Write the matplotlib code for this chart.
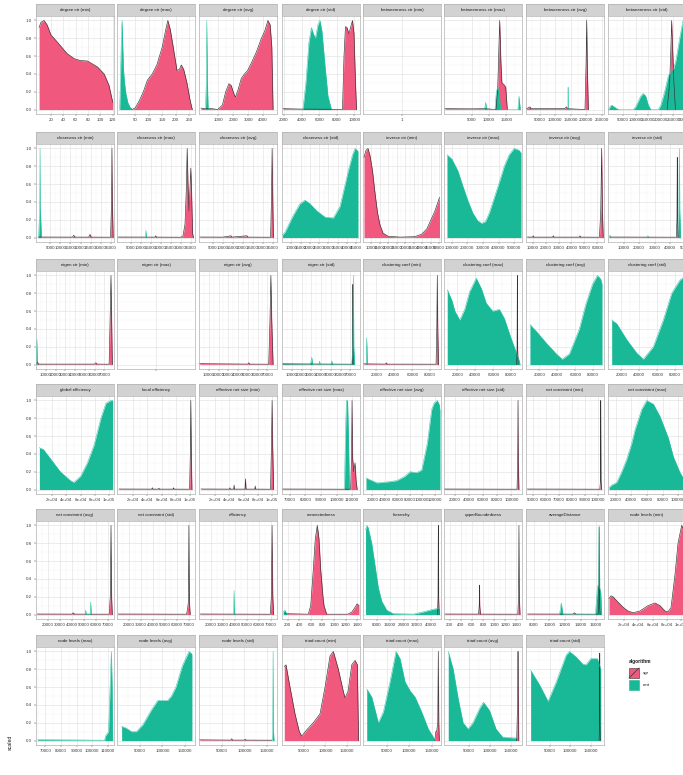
import numpy as np
import matplotlib
matplotlib.use('Agg')
from matplotlib import pyplot as plt
from matplotlib.patches import Rectangle
from matplotlib.lines import Line2D

plt.rcParams['font.family'] = ['Liberation Sans', 'DejaVu Sans']

############# Data ############
PINK, TEAL = '#F0587E', '#19B897'

titles = [
    'degree ctr (min)', 'degree ctr (max)', 'degree ctr (avg)', 'degree ctr (std)',
    'betweenness ctr (min)', 'betweenness ctr (max)', 'betweenness ctr (avg)', 'betweenness ctr (std)',
    'closeness ctr (min)', 'closeness ctr (max)', 'closeness ctr (avg)', 'closeness ctr (std)',
    'inverse ctr (min)', 'inverse ctr (max)', 'inverse ctr (avg)', 'inverse ctr (std)',
    'eigen ctr (min)', 'eigen ctr (max)', 'eigen ctr (avg)', 'eigen ctr (std)',
    'clustering coef (min)', 'clustering coef (max)', 'clustering coef (avg)', 'clustering coef (std)',
    'global efficiency', 'local efficiency', 'effective net size (min)', 'effective net size (max)',
    'effective net size (avg)', 'effective net size (std)', 'net constraint (min)', 'net constraint (max)',
    'net constraint (avg)', 'net constraint (std)', 'efficiency', 'connectedness',
    'hierarchy', 'upperBoundedness', 'averageDistance', 'node levels (min)',
    'node levels (max)', 'node levels (avg)', 'node levels (std)', 'triad count (min)',
    'triad count (max)', 'triad count (avg)', 'triad count (std)',
]

x_range = {
    'degree ctr (min)': (-4, 122), 'degree ctr (max)': (-18, 272),
    'degree ctr (avg)': (-285, 4933), 'degree ctr (std)': (1770, 10660),
    'betweenness ctr (min)': (0.95, 1.05), 'betweenness ctr (max)': (-3000, 19500),
    'betweenness ctr (avg)': (6000, 258000), 'betweenness ctr (std)': (-10000, 300000),
    'closeness ctr (min)': (-2000, 36500), 'closeness ctr (max)': (-2000, 37000),
    'closeness ctr (avg)': (-2000, 37000), 'closeness ctr (std)': (5000, 47000),
    'inverse ctr (min)': (5000, 51000), 'inverse ctr (max)': (50000, 550000),
    'inverse ctr (avg)': (5000, 65000), 'inverse ctr (std)': (0, 50000),
    'eigen ctr (min)': (0, 80000), 'eigen ctr (max)': (0.95, 1.05),
    'eigen ctr (avg)': (0, 80000), 'eigen ctr (std)': (0, 80000),
    'clustering coef (min)': (5000, 92000), 'clustering coef (max)': (5000, 92000),
    'clustering coef (avg)': (5000, 92000), 'clustering coef (std)': (5000, 92000),
    'global efficiency': (-2900, 107100), 'local efficiency': (-2900, 107100),
    'effective net size (min)': (-2900, 107100), 'effective net size (max)': (65000, 115000),
    'effective net size (avg)': (5000, 130000), 'effective net size (std)': (5000, 115000),
    'net constraint (min)': (45000, 105000), 'net constraint (max)': (10000, 110000),
    'net constraint (avg)': (10000, 75000), 'net constraint (std)': (10000, 75000),
    'efficiency': (10000, 75000), 'connectedness': (100, 1450),
    'hierarchy': (0, 46000), 'upperBoundedness': (100, 1500),
    'averageDistance': (7000, 17000), 'node levels (min)': (-2900, 107100),
    'node levels (max)': (64000, 114000), 'node levels (avg)': (0, 172000),
    'node levels (std)': (0, 172000), 'triad count (min)': (-1500, 181000),
    'triad count (max)': (-2700, 170700), 'triad count (avg)': (-9700, 176700),
    'triad count (std)': (-7550, 181900),
}

br_5k = [5000, 10000, 15000, 20000, 25000, 30000, 35000]
br_10k = [10000, 20000, 30000, 40000, 50000, 60000, 70000]
br_20k = [20000, 40000, 60000, 80000]
br_sci = [20000, 40000, 60000, 80000, 100000]
br_triad = [50000, 100000, 150000]

x_breaks = {
    'degree ctr (min)': [20, 40, 60, 80, 100, 120],
    'degree ctr (max)': [50, 100, 150, 200, 250],
    'degree ctr (avg)': [1000, 2000, 3000, 4000],
    'degree ctr (std)': [2000, 4000, 6000, 8000, 10000],
    'betweenness ctr (min)': [1],
    'betweenness ctr (max)': [5000, 10000, 15000],
    'betweenness ctr (avg)': [50000, 100000, 150000, 200000, 250000],
    'betweenness ctr (std)': [50000, 100000, 150000, 200000, 250000, 300000],
    'closeness ctr (min)': br_5k, 'closeness ctr (max)': br_5k, 'closeness ctr (avg)': br_5k,
    'closeness ctr (std)': [10000, 15000, 20000, 25000, 30000, 35000, 40000, 45000],
    'inverse ctr (min)': [10000, 15000, 20000, 25000, 30000, 35000, 40000, 45000, 50000],
    'inverse ctr (max)': [100000, 200000, 300000, 400000, 500000],
    'inverse ctr (avg)': [10000, 20000, 30000, 40000, 50000, 60000],
    'inverse ctr (std)': [10000, 20000, 30000, 40000, 50000],
    'eigen ctr (min)': br_10k, 'eigen ctr (max)': [1],
    'eigen ctr (avg)': br_10k, 'eigen ctr (std)': br_10k,
    'clustering coef (min)': br_20k, 'clustering coef (max)': br_20k,
    'clustering coef (avg)': br_20k, 'clustering coef (std)': br_20k,
    'global efficiency': br_sci, 'local efficiency': br_sci, 'effective net size (min)': br_sci,
    'effective net size (max)': [70000, 80000, 90000, 100000, 110000],
    'effective net size (avg)': [20000, 40000, 60000, 80000, 100000, 120000],
    'effective net size (std)': [20000, 40000, 60000, 80000, 100000],
    'net constraint (min)': [50000, 60000, 70000, 80000, 90000, 100000],
    'net constraint (max)': [20000, 40000, 60000, 80000, 100000],
    'net constraint (avg)': [20000, 30000, 40000, 50000, 60000, 70000],
    'net constraint (std)': [20000, 30000, 40000, 50000, 60000, 70000],
    'efficiency': [20000, 30000, 40000, 50000, 60000, 70000],
    'connectedness': [200, 400, 600, 800, 1000, 1200, 1400],
    'hierarchy': [8000, 16000, 24000, 32000, 40000],
    'upperBoundedness': [200, 400, 600, 800, 1000, 1200, 1400],
    'averageDistance': [8000, 10000, 12000, 14000, 16000],
    'node levels (min)': br_sci,
    'node levels (max)': [70000, 80000, 90000, 100000, 110000],
    'node levels (avg)': br_triad, 'node levels (std)': br_triad,
    'triad count (min)': br_triad, 'triad count (max)': br_triad,
    'triad count (avg)': br_triad, 'triad count (std)': br_triad,
}

sci_text = ['2e+04', '4e+04', '6e+04', '8e+04', '1e+05']
x_text = {
    'global efficiency': sci_text, 'local efficiency': sci_text,
    'effective net size (min)': sci_text, 'node levels (min)': sci_text,
    'eigen ctr (max)': [''],
}

# scaled densities, algorithm "sgr"
sgr = {
    'degree ctr (min)': ([1, 4, 9, 14, 20, 32, 46, 58, 68, 79, 95, 106, 114, 120],
                         [0.92, 0.98, 1.0, 0.95, 0.84, 0.745, 0.63, 0.57, 0.55, 0.545, 0.48, 0.4, 0.27, 0.08]),
    'degree ctr (max)': ([38, 50, 65, 80, 95, 113, 130, 150, 162, 171, 180, 190, 205, 214, 221, 230, 242, 254, 262],
                         [0, 0.02, 0.1, 0.2, 0.33, 0.4, 0.5, 0.7, 0.88, 1.0, 0.9, 0.72, 0.44, 0.45, 0.5, 0.45, 0.3, 0.1, 0]),
    'degree ctr (avg)': ([-150, 600, 955, 1280, 1500, 1717, 1870, 2043, 2154, 2324, 2545, 2760, 2975, 3236, 3562,
                          3888, 4110, 4325, 4475, 4586, 4671],
                         [0.015, 0.01, 0, 0.05, 0.2, 0.29, 0.27, 0.18, 0.14, 0.22, 0.35, 0.4, 0.44, 0.53, 0.65,
                          0.8, 0.88, 1.0, 0.95, 0.7, 0]),
    'degree ctr (std)': ([1900, 4100, 7500, 8663, 8834, 9005, 9177, 9406, 9577, 9806, 9977, 10148, 10263],
                         [0.01, 0.005, 0.003, 0, 0.6, 0.93, 0.92, 0.85, 0.92, 1.0, 0.85, 0.3, 0]),
    'betweenness ctr (max)': ([-2700, 5000, 9000, 12000, 12500, 13070, 13400, 13700, 14300, 14800, 15260],
                              [0.01, 0.008, 0.01, 0, 0.25, 1.0, 0.55, 0.3, 0.28, 0.25, 0]),
    'betweenness ctr (avg)': ([8000, 18900, 22000, 130000, 137000, 140000, 196500, 200000, 202100, 204000, 207500],
                              [0.01, 0.03, 0.01, 0.01, 0.03, 0.01, 0, 0.5, 1.0, 0.5, 0]),
    'betweenness ctr (std)': ([225000, 235000, 240000, 243000, 246000, 252000, 258000],
                              [0, 0.3, 0.7, 1.0, 0.75, 0.3, 0]),
    'closeness ctr (min)': ([-1000, 16000, 16650, 17300, 24000, 24650, 25300, 34800, 35300, 35500, 35700, 36100],
                            [0.006, 0.005, 0.025, 0.005, 0.005, 0.035, 0.005, 0.004, 0.4, 1.0, 0.4, 0]),
    'closeness ctr (max)': ([-1500, 17000, 17350, 17700, 30000, 31000, 32000, 32600, 33100, 33500, 34000, 34400,
                             34900, 35300, 35800, 36200],
                            [0.006, 0.005, 0.02, 0.005, 0.004, 0.02, 0.15, 0.5, 1.0, 0.6, 0.3, 0.5,
                             0.78, 0.5, 0.05, 0]),
    'closeness ctr (avg)': ([-1500, 10000, 14000, 14500, 22000, 22500, 33800, 34200, 34560, 34900, 35200],
                            [0.006, 0.005, 0.02, 0.005, 0.02, 0.005, 0.004, 0.4, 1.0, 0.4, 0]),
    'inverse ctr (min)': ([5590, 6770, 7950, 9130, 10600, 12080, 13550, 15030, 16800, 19740, 26820, 35660, 39790,
                           42740, 45100, 47460, 50110],
                          [0.9, 0.98, 1.0, 0.92, 0.75, 0.5, 0.28, 0.14, 0.05, 0.015, 0.005, 0.01, 0.04,
                           0.1, 0.2, 0.3, 0.45]),
    'inverse ctr (avg)': ([6000, 10000, 10600, 11200, 25500, 26000, 26500, 46000, 46500, 47000, 61500, 62500, 63200,
                           63800, 64400],
                          [0.006, 0.005, 0.02, 0.005, 0.005, 0.02, 0.005, 0.005, 0.02, 0.005, 0.004, 0.3, 1.0,
                           0.3, 0]),
    'inverse ctr (std)': ([1000, 43800, 44200, 44400, 44600, 45000], [0.006, 0.004, 0.2, 0.9, 0.2, 0]),
    'eigen ctr (min)': ([800, 1500, 2500, 60000, 61300, 62500, 75000, 76000, 76900, 77600, 78300],
                        [0.01, 0.03, 0.005, 0.005, 0.02, 0.005, 0.004, 0.5, 1.0, 0.5, 0]),
    'eigen ctr (avg)': ([800, 50000, 51000, 52000, 71500, 72800, 73700, 74600, 76000],
                        [0.01, 0.005, 0.02, 0.005, 0.004, 0.5, 1.0, 0.5, 0]),
    'eigen ctr (std)': ([800, 72000, 72400, 72700, 73000], [0.008, 0.004, 0.1, 0.9, 0]),
    'clustering coef (min)': ([6000, 30000, 31000, 32000, 86500, 87300, 87870, 88400, 89200],
                              [0.008, 0.005, 0.02, 0.005, 0.004, 0.4, 1.0, 0.4, 0]),
    'clustering coef (max)': ([86000, 86500, 86800, 87100, 87600], [0, 0.2, 1.0, 0.2, 0]),
    'local efficiency': ([0, 46000, 47000, 48000, 55500, 56200, 57000, 76000, 76850, 77500, 99500, 100500, 101200,
                          101900, 102800],
                         [0.006, 0.005, 0.02, 0.005, 0.005, 0.015, 0.005, 0.005, 0.02, 0.005, 0.004, 0.4, 1.0,
                          0.4, 0]),
    'effective net size (min)': ([0, 40000, 40600, 41200, 46000, 46600, 47200, 62000, 62700, 63400, 75800, 76400,
                                  77000, 98000, 99300, 100200, 101000, 102300],
                                 [0.006, 0.005, 0.02, 0.005, 0.005, 0.05, 0.005, 0.005, 0.12, 0.005, 0.005, 0.04,
                                  0.005, 0.004, 0.5, 1.0, 0.5, 0]),
    'effective net size (max)': ([65500, 105000, 109000, 109600, 109900, 110300, 111000, 111800, 112500, 113200],
                                 [0.006, 0.004, 0.004, 0.4, 1.0, 0.35, 0.2, 0.3, 0.1, 0]),
    'effective net size (std)': ([6000, 108000, 108900, 109400, 109900, 110700], [0.006, 0.004, 0.3, 1.0, 0.3, 0]),
    'net constraint (min)': ([46000, 101800, 102300, 102500, 102700, 103200], [0.006, 0.004, 0.1, 1.0, 0.1, 0]),
    'net constraint (avg)': ([11000, 40000, 41000, 42000, 71000, 71900, 72500, 73000, 73600],
                             [0.006, 0.005, 0.02, 0.005, 0.004, 0.2, 1.0, 0.2, 0]),
    'net constraint (std)': ([11000, 68000, 69000, 69500, 69900, 70300, 71000],
                             [0.006, 0.004, 0.08, 0.15, 1.0, 0.15, 0]),
    'efficiency': ([11000, 69400, 70300, 70900, 71500, 72200], [0.006, 0.004, 0.2, 1.0, 0.2, 0]),
    'connectedness': ([150, 555, 597, 641, 676, 711, 740, 770, 809, 827, 873, 1242, 1311, 1363, 1398, 1432],
                      [0.01, 0.004, 0.1, 0.5, 0.85, 1.0, 0.85, 0.5, 0.2, 0.1, 0.004, 0.004, 0.03, 0.08, 0.12, 0.1]),
    'hierarchy': ([43900, 44250, 44430, 44600, 44900], [0, 0.2, 1.0, 0.2, 0]),
    'upperBoundedness': ([120, 720, 732, 737, 742, 754, 1425, 1438, 1445, 1452, 1465],
                         [0.006, 0.005, 0.1, 0.33, 0.1, 0.005, 0.004, 0.2, 1.0, 0.2, 0]),
    'averageDistance': ([7200, 13000, 13200, 13400, 16250, 16330, 16380, 16430, 16500],
                        [0.006, 0.005, 0.02, 0.005, 0.004, 0.1, 0.98, 0.1, 0]),
    'node levels (min)': ([-1490, 1330, 4150, 11200, 18700, 25300, 32800, 42200, 53500, 63400, 70400, 77500, 81700,
                           86000, 91600, 95800, 101000, 104300, 107100],
                          [0.18, 0.21, 0.2, 0.14, 0.08, 0.04, 0.02, 0.04, 0.1, 0.13, 0.1, 0.04, 0.03,
                           0.08, 0.45, 0.8, 1.0, 0.95, 0.9]),
    'node levels (std)': ([2000, 70000, 72000, 74000, 100000, 102000, 104000, 160000],
                          [0.008, 0.005, 0.02, 0.005, 0.005, 0.015, 0.005, 0.004]),
    'triad count (min)': ([3860, 7850, 17210, 28920, 38990, 44610, 56320, 71780, 87470, 99180, 110890, 118620,
                           130330, 142040, 146020, 153000, 161710, 169440, 174830, 177600],
                          [0.83, 0.85, 0.6, 0.3, 0.1, 0.05, 0.12, 0.2, 0.3, 0.6, 0.95, 1.0,
                           0.8, 0.55, 0.48, 0.55, 0.85, 0.9, 0.85, 0.0]),
    'triad count (max)': ([157000, 159000, 161000, 163500, 164670, 165800, 167000], [0, 0.1, 0.1, 0.2, 1.0, 0.2, 0]),
    'triad count (avg)': ([164000, 165500, 166500, 167220, 168000, 169000], [0, 0.3, 0.6, 1.0, 0.5, 0]),
    'triad count (std)': ([170000, 171000, 171580, 172200, 173000], [0, 0.2, 0.98, 0.2, 0]),
}

# scaled densities, algorithm "cmt"
cmt = {
    'degree ctr (max)': ([-8, -4, -1, 1, 3, 6, 10, 15, 22, 30, 40],
                         [0, 0.5, 0.9, 1.0, 0.75, 0.45, 0.3, 0.18, 0.08, 0.03, 0]),
    'degree ctr (avg)': ([150, 200, 237, 275, 330], [0, 0.3, 1.0, 0.3, 0]),
    'degree ctr (std)': ([4149, 4491, 4834, 5120, 5349, 5577, 5863, 6091, 6320, 6663, 7006, 7406],
                         [0, 0.3, 0.75, 0.92, 0.85, 0.8, 0.95, 1.0, 0.88, 0.5, 0.15, 0]),
    'betweenness ctr (max)': ([8700, 9030, 9300, 11700, 12100, 12500, 12900, 13300, 18300, 18640, 19000],
                              [0, 0.08, 0, 0, 0.2, 0.25, 0.2, 0, 0, 0.15, 0]),
    'betweenness ctr (avg)': ([139000, 141500, 142000, 142500, 145000], [0, 0.02, 0.25, 0.02, 0]),
    'betweenness ctr (std)': ([-8000, 0, 5000, 15000, 25000, 35000, 90000, 100000, 110000, 120000, 130000, 140000,
                               150000, 160000, 190000, 200000, 215000, 230000, 240000, 250000, 260000, 275000,
                               288000, 300000],
                              [0, 0.04, 0.05, 0.03, 0.01, 0, 0, 0.03, 0.09, 0.15, 0.18, 0.15,
                               0.05, 0, 0, 0.05, 0.2, 0.38, 0.42, 0.45, 0.55, 0.8, 1.0, 1.0]),
    'closeness ctr (min)': ([-700, -150, 0, 150, 700], [0, 0.35, 1.0, 0.3, 0]),
    'closeness ctr (max)': ([12200, 12480, 12750], [0, 0.08, 0]),
    'closeness ctr (std)': ([5300, 6620, 11080, 14690, 17380, 20080, 23690, 28150, 32620, 36230, 40700, 43000,
                             44310, 45920],
                            [0.03, 0.06, 0.25, 0.38, 0.42, 0.38, 0.3, 0.23, 0.22, 0.35, 0.75, 0.93, 1.0, 0.97]),
    'inverse ctr (max)': ([69000, 100600, 138600, 170300, 201900, 233500, 265200, 290500, 315800, 341100, 372800,
                           404400, 436100, 467700, 499400, 531000, 543700],
                          [0.93, 0.88, 0.75, 0.58, 0.42, 0.28, 0.19, 0.16, 0.18, 0.28, 0.45, 0.62, 0.8, 0.93,
                           1.0, 0.98, 0.95]),
    'inverse ctr (std)': ([1000, 1300, 1600, 25000, 25500, 26000, 44800, 45400, 45700, 46000, 46600],
                          [0, 0.03, 0, 0, 0.02, 0, 0, 0.3, 1.0, 0.3, 0]),
    'eigen ctr (min)': ([500, 1000, 1500], [0, 0.28, 0]),
    'eigen ctr (std)': ([500, 28000, 29500, 30500, 31500, 38000, 38500, 39000, 50000, 51000, 52000, 71500, 72600,
                         73100, 73600, 74500],
                        [0.01, 0, 0.02, 0.08, 0, 0, 0.04, 0, 0, 0.04, 0, 0, 0.2, 1.0, 0.2, 0]),
    'clustering coef (min)': ([8500, 9130, 9800], [0, 0.3, 0]),
    'clustering coef (max)': ([8630, 13800, 17100, 22600, 28100, 33600, 41000, 46800, 52000, 59300, 66700, 72200,
                               79600, 85100, 88700, 89800],
                              [0.84, 0.72, 0.6, 0.5, 0.62, 0.82, 0.97, 0.85, 0.69, 0.6, 0.62, 0.52,
                               0.3, 0.15, 0.05, 0]),
    'clustering coef (avg)': ([9400, 16800, 27800, 38800, 45400, 53400, 64500, 71800, 79100, 84600, 88300, 89800],
                              [0.45, 0.37, 0.24, 0.12, 0.06, 0.12, 0.4, 0.68, 0.9, 1.0, 0.96, 0.9]),
    'clustering coef (std)': ([9100, 14700, 25900, 37000, 44400, 55500, 66700, 76000, 85300, 92000],
                              [0.5, 0.46, 0.28, 0.13, 0.06, 0.2, 0.5, 0.8, 0.95, 1.0]),
    'global efficiency': ([1860, 7570, 17140, 31430, 45710, 50430, 60000, 69570, 79000, 88570, 95710, 102860, 105290],
                          [0.47, 0.45, 0.35, 0.2, 0.1, 0.08, 0.15, 0.3, 0.5, 0.8, 0.97, 1.0, 1.0]),
    'effective net size (max)': ([105000, 105800, 106300, 107000, 107600, 108200], [0, 0.7, 1.0, 1.0, 0.6, 0]),
    'effective net size (avg)': ([9800, 16200, 27000, 43000, 59000, 72300, 80300, 91100, 99100, 108100, 115100,
                                  118800, 124100, 127300, 128400],
                                 [0.13, 0.11, 0.075, 0.085, 0.1, 0.15, 0.2, 0.19, 0.22, 0.52, 0.9,
                                  0.97, 1.0, 0.95, 0.88]),
    'net constraint (max)': ([11300, 14700, 21200, 27600, 34000, 40400, 44600, 53200, 59600, 68100, 76700, 87300,
                              93700, 102300, 110000],
                             [0.02, 0.05, 0.08, 0.2, 0.34, 0.52, 0.67, 0.9, 1.0, 0.96, 0.82, 0.58,
                              0.37, 0.19, 0.08]),
    'net constraint (avg)': ([51000, 51400, 51800, 55200, 55600, 56000], [0, 0.05, 0, 0, 0.14, 0]),
    'efficiency': ([38800, 39200, 39600], [0, 0.27, 0]),
    'connectedness': ([120, 152, 185], [0.03, 0.05, 0]),
    'hierarchy': ([1500, 2180, 2950, 5130, 7080, 9030, 11030, 13980, 17880, 29680, 35580, 41480, 44840],
                  [0.95, 1.0, 0.98, 0.8, 0.55, 0.3, 0.15, 0.05, 0.01, 0.005, 0.03, 0.06, 0.07]),
    'averageDistance': ([11300, 11520, 11740, 15900, 16150, 16300, 16370, 16450, 16580, 16700],
                        [0, 0.13, 0, 0, 0.3, 0.35, 1.0, 0.3, 0.25, 0]),
    'node levels (max)': ([65000, 108000, 108500, 110500, 111500, 112300, 112800, 113200],
                          [0.01, 0.004, 0.05, 0.1, 0.6, 1.0, 0.6, 0]),
    'node levels (avg)': ([10200, 20000, 31960, 42830, 57170, 75430, 89780, 111500, 120000, 129800, 144100, 158700,
                           165200],
                          [0.16, 0.14, 0.1, 0.1, 0.18, 0.34, 0.45, 0.45, 0.5, 0.6, 0.84, 1.0, 0.97]),
    'node levels (std)': ([161000, 162500, 163400, 164200, 165500], [0, 0.1, 1.0, 0.1, 0]),
    'triad count (max)': ([5560, 16670, 31330, 42440, 57330, 70670, 79560, 90670, 101780, 112890, 127780, 142440,
                           153560, 158000],
                          [0.58, 0.49, 0.2, 0.32, 0.66, 1.0, 0.92, 0.66, 0.56, 0.49, 0.32, 0.13, 0.04, 0]),
    'triad count (avg)': ([470, 12260, 24060, 35850, 47640, 59430, 75240, 84670, 98820, 114620, 130190, 153770,
                           165560],
                          [1.0, 0.8, 0.47, 0.2, 0.13, 0.2, 0.36, 0.43, 0.34, 0.13, 0.04, 0.03, 0.03]),
    'triad count (std)': ([3720, 26020, 45950, 66070, 90050, 97960, 114030, 129860, 138000, 150000, 165830, 173980],
                          [0.79, 0.62, 0.44, 0.66, 0.96, 1.0, 0.94, 0.86, 0.85, 0.92, 0.92, 0.8]),
}
################################

FIG_W, FIG_H = 683, 775
COL_LEFT = [36, 117, 199, 282, 363, 444, 526, 608]
ROW_TOP = [4, 132, 259, 384, 509, 635]
PANEL_W, STRIP_H, PANEL_H = 78, 12, 98
Y_BREAKS = [0.0, 0.2, 0.4, 0.6, 0.8, 1.0]
TXT = 3.2


def box(left, top, w, h):
    return [left / FIG_W, 1 - (top + h) / FIG_H, w / FIG_W, h / FIG_H]


def minor_breaks(breaks, lo, hi):
    if len(breaks) < 2:
        return []
    step = breaks[1] - breaks[0]
    vals = np.arange(breaks[0] - step / 2, hi, step)
    return [v for v in vals if lo <= v <= hi]


def draw_density(ax, pts, fill, edge, lw):
    xs, ys = pts
    ax.fill_between(xs, ys, 0, color=fill, lw=0, zorder=2)
    ax.plot(xs, ys, color=edge, lw=lw, zorder=3, solid_joinstyle='round')


fig = plt.figure(figsize=(FIG_W / 100, FIG_H / 100), dpi=100)

for i, name in enumerate(titles):
    r, c = divmod(i, 8)
    L, T = COL_LEFT[c], ROW_TOP[r]

    # strip
    st = fig.add_axes(box(L, T, PANEL_W, STRIP_H))
    st.set_facecolor('#D2D2D2')
    st.set_xticks([])
    st.set_yticks([])
    for s in st.spines.values():
        s.set_color('#B0B0B0')
        s.set_linewidth(0.5)
    st.text(0.5, 0.5, name, ha='center', va='center', fontsize=TXT, color='#1A1A1A',
            transform=st.transAxes)

    # panel
    ax = fig.add_axes(box(L, T + STRIP_H, PANEL_W, PANEL_H))
    ax.set_facecolor('white')
    lo, hi = x_range[name]
    ax.set_xlim(lo, hi)
    ax.set_ylim(-0.05, 1.05)
    br = x_breaks[name]
    ax.set_xticks(br)
    ax.set_xticklabels(x_text.get(name, ['{:g}'.format(v) for v in br]))
    ax.set_xticks(minor_breaks(br, lo, hi), minor=True)
    ax.set_yticks(Y_BREAKS)
    ax.set_yticks([0.1, 0.3, 0.5, 0.7, 0.9], minor=True)
    ax.set_yticklabels(['%.1f' % v for v in Y_BREAKS])
    ax.grid(which='major', color='#E2E2E2', lw=0.45, zorder=0)
    ax.grid(which='minor', color='#F1F1F1', lw=0.3, zorder=0)
    ax.set_axisbelow(True)
    ax.tick_params(axis='both', which='major', length=1.4, width=0.3, color='#333333',
                   labelsize=TXT, labelcolor='#3A3A3A', pad=1.5)
    ax.tick_params(which='minor', length=0)
    if c != 0:
        ax.tick_params(axis='y', left=False, labelleft=False)
    for s in ax.spines.values():
        s.set_color('#B0B0B0')
        s.set_linewidth(0.5)

    if name in sgr:
        draw_density(ax, sgr[name], PINK, '#333333', 0.45)
    if name in cmt:
        draw_density(ax, cmt[name], TEAL, '#2BC3A4', 0.35)

# legend
fig.text(629 / FIG_W, 1 - 662 / FIG_H, 'algorithm', fontsize=3.5, fontweight='bold',
         va='center', color='#1A1A1A')
fig.add_artist(Rectangle((629 / FIG_W, 1 - 678 / FIG_H), 10 / FIG_W, 10 / FIG_H,
                         transform=fig.transFigure, facecolor=PINK, edgecolor='#333333', lw=0.4))
fig.add_artist(Line2D([629 / FIG_W, 639 / FIG_W], [1 - 678 / FIG_H, 1 - 668 / FIG_H],
                      transform=fig.transFigure, color='#333333', lw=0.5))
fig.add_artist(Rectangle((629 / FIG_W, 1 - 690 / FIG_H), 10 / FIG_W, 10 / FIG_H,
                         transform=fig.transFigure, facecolor=TEAL, edgecolor=TEAL, lw=0.4))
fig.text(643 / FIG_W, 1 - 673 / FIG_H, 'sgr', fontsize=TXT, va='center', color='#1A1A1A')
fig.text(643 / FIG_W, 1 - 685 / FIG_H, 'cmt', fontsize=TXT, va='center', color='#1A1A1A')

fig.text(10 / FIG_W, 1 - 742 / FIG_H, 'scaled', rotation=90, fontsize=3.8,
         ha='center', va='center', color='#1A1A1A')

fig.savefig('out.png', dpi=100)
